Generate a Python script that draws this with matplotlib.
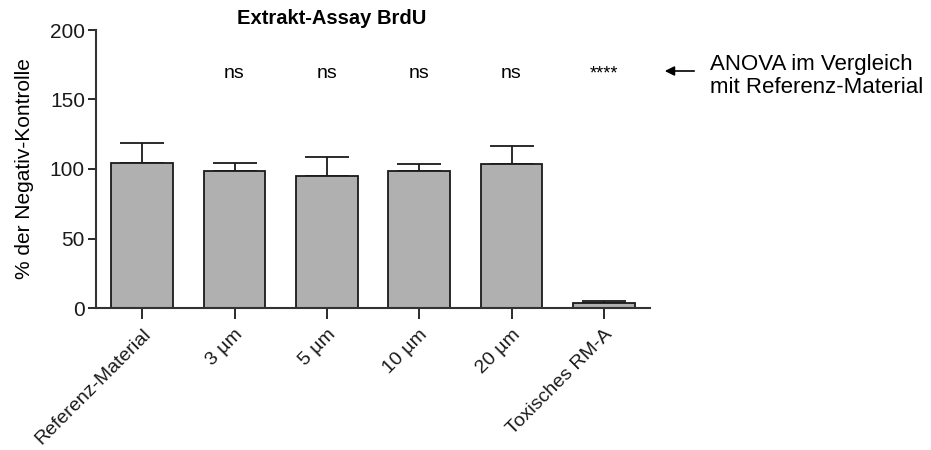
import matplotlib
matplotlib.use("Agg")
import matplotlib.pyplot as plt

plt.rcParams['font.family'] = ['Liberation Sans', 'DejaVu Sans']

categories = ["Referenz-Material", "3 µm", "5 µm", "10 µm", "20 µm", "Toxisches RM-A"]
values = [104.3, 98.3, 95.2, 98.8, 103.4, 3.6]
errors = [14.7, 6.0, 13.2, 5.0, 12.9, 1.4]
sig_labels = ["", "ns", "ns", "ns", "ns", "****"]
yticks = [0, 50, 100, 150, 200]

fig = plt.figure(figsize=(9.31, 4.5), dpi=100)
ax = fig.add_axes([96/931, 1-308/450, (650-96)/931, (308-30)/450])

x = list(range(len(categories)))
ax.bar(x, values, width=0.67, color="#b0b0b0", edgecolor="#1a1a1a", linewidth=1.3, zorder=2)
ax.errorbar(x, values, yerr=[[0]*len(errors), errors], fmt="none", ecolor="#1a1a1a",
            elinewidth=1.3, capsize=16, capthick=1.3, zorder=1)

for xi, lab in zip(x, sig_labels):
    if lab == "ns":
        ax.text(xi, 169, lab, ha="center", va="center", fontsize=14)
    elif lab:
        ax.text(xi, 168, lab, ha="center", va="center", fontsize=13)

ax.set_xlim(-0.5, 5.5)
ax.set_ylim(0, 200)
ax.set_yticks(yticks)
ax.set_yticklabels([str(t) for t in yticks], fontsize=15)
ax.set_xticks(x)
ax.set_xticklabels(categories, rotation=45, ha="right", rotation_mode="anchor", fontsize=14)
ax.tick_params(axis="y", direction="out", length=6, width=1.3, colors="#1a1a1a", pad=2)
ax.tick_params(axis="x", direction="out", length=8, width=1.3, colors="#1a1a1a", pad=5)
for s in ["top", "right"]:
    ax.spines[s].set_visible(False)
for s in ["left", "bottom"]:
    ax.spines[s].set_linewidth(1.5)
    ax.spines[s].set_color("#333333")

ax.set_ylabel("% der Negativ-Kontrolle", fontsize=15, labelpad=11)

fig.text(332/931, 1-19/450, "Extrakt-Assay BrdU", ha="center", va="center", fontsize=14.5, fontweight="bold")

fig.patches.append(matplotlib.patches.FancyArrowPatch((697/931, 1-71/450), (662/931, 1-71/450),
                   transform=fig.transFigure, arrowstyle="-|>", mutation_scale=14, color="black", lw=1.2))
fig.text(710/931, 1-76/450, "ANOVA im Vergleich\nmit Referenz-Material", ha="left", va="center",
         fontsize=16, linespacing=1.1)

fig.savefig("out.png", dpi=100)
